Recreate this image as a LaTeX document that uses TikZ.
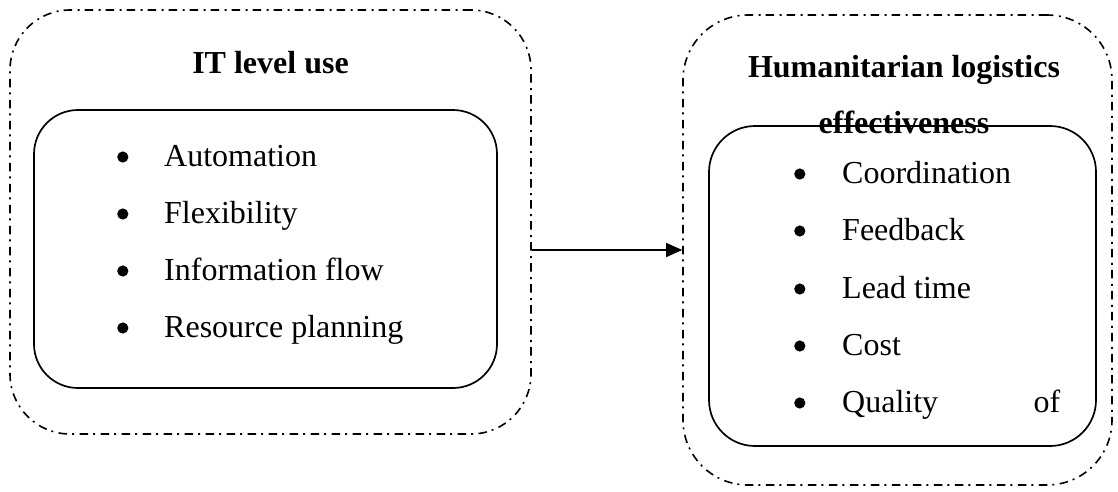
\documentclass[tikz,border=0pt]{standalone}
\usepackage{fontspec}
\setmainfont{Liberation Serif}
\usetikzlibrary{arrows.meta}
\newcommand\bigbul{\tikz[baseline=-9pt]\fill (0pt,0pt) circle (5.6pt);}
\begin{document}
\begin{tikzpicture}[x=1pt,y=-1pt,
  outerbox/.style={draw, line width=1.6pt, dash pattern=on 8.5pt off 5pt on 2pt off 5.5pt, rounded corners=#1, inner sep=0pt},
  innerbox/.style={draw, line width=1.7pt, rounded corners=#1, inner sep=0pt},
  txt/.style={font=\fontsize{32}{38}\selectfont, inner sep=0pt},
  ttl/.style={font=\fontsize{32}{38}\selectfont\bfseries, inner sep=0pt, anchor=base},
  item/.style={txt, anchor=base west},
  conn/.style={line width=1.5pt, -{Triangle[length=16pt,width=14pt]}}]
\useasboundingbox (0,0) rectangle (1118,491);
% left group
\node[outerbox=60pt, minimum width=521pt, minimum height=424pt] (itouter) at (270.5,222) {};
\node[innerbox=44pt, minimum width=463pt, minimum height=278pt] (itinner) at (265.5,249) {};
\node[ttl] (ittitle) at (270.5,73) {IT level use};
\node[item] (a1) at (117,166) {\makebox[47pt][l]{\bigbul}Automation};
\node[item] (a2) at (117,223) {\makebox[47pt][l]{\bigbul}Flexibility};
\node[item] (a3) at (117,280) {\makebox[47pt][l]{\bigbul}Information flow};
\node[item] (a4) at (117,337) {\makebox[47pt][l]{\bigbul}Resource planning};
% right group
\node[outerbox=65pt, minimum width=429pt, minimum height=470pt] (hlouter) at (897.5,250) {};
\node[ttl] (hltitle1) at (904,77) {Humanitarian logistics};
\node[ttl] (hltitle2) at (904,133) {effectiveness};
\node[innerbox=46pt, minimum width=387pt, minimum height=320pt] (hlinner) at (902.5,286) {};
\node[item] (b1) at (794,183) {\makebox[48pt][l]{\bigbul}Coordination};
\node[item] (b2) at (794,240) {\makebox[48pt][l]{\bigbul}Feedback};
\node[item] (b3) at (794,298) {\makebox[48pt][l]{\bigbul}Lead time};
\node[item] (b4) at (794,355) {\makebox[48pt][l]{\bigbul}Cost};
\node[item] (b5) at (794,412) {\makebox[48pt][l]{\bigbul}\makebox[218pt][l]{Quality\hfill of}};
% connector
\draw[conn] ([yshift=-28pt]itouter.east) -- (hlouter.west);
\end{tikzpicture}
\end{document}
